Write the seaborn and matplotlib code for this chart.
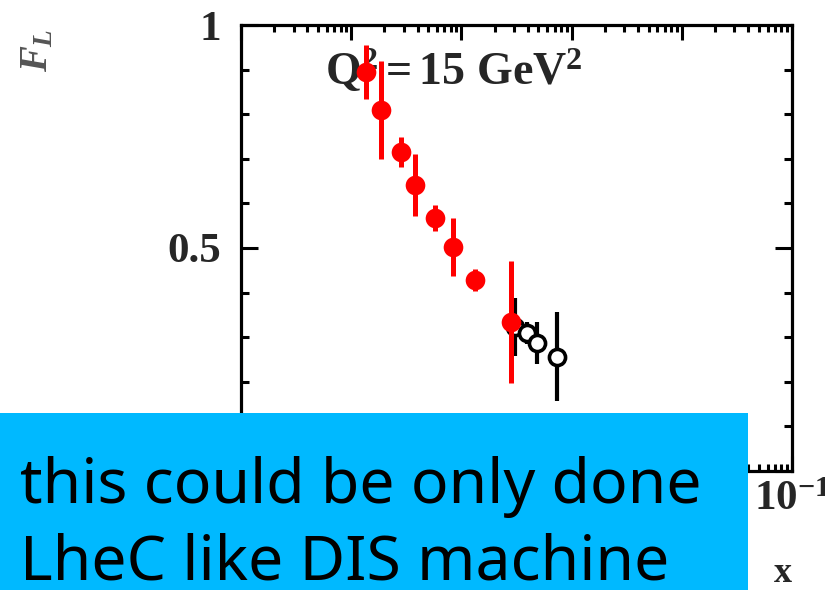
import numpy as np
import pandas as pd
import seaborn as sns
import matplotlib
matplotlib.use("Agg")
import matplotlib.pyplot as plt
from matplotlib.ticker import LogLocator, MultipleLocator, FuncFormatter, NullFormatter
from matplotlib.patches import Rectangle

# Filled points (red) and open points (black), F_L vs x at Q^2 = 15 GeV^2
x_red = [1.36e-5, 1.86e-5, 2.82e-5, 3.79e-5, 5.77e-5, 8.41e-5, 1.34e-4, 2.79e-4]
y_red = [0.895, 0.809, 0.715, 0.641, 0.567, 0.502, 0.428, 0.334]
e_red = [0.060, 0.110, 0.034, 0.070, 0.030, 0.065, 0.025, 0.136]

x_blk = [3.09e-4, 3.90e-4, 4.81e-4, 7.31e-4]
y_blk = [0.323, 0.309, 0.287, 0.256]
e_blk = [0.065, 0.025, 0.047, 0.100]

title_text = r"$\mathbf{Q^2 = 15\ GeV^2}$"
note_lines = ["this could be only done", "LheC like DIS machine"]

sns.set_theme(style="ticks")
plt.rcParams["font.family"] = ["Liberation Serif", "DejaVu Serif"]
plt.rcParams["font.weight"] = "bold"
plt.rcParams["mathtext.fontset"] = "custom"
plt.rcParams["mathtext.rm"] = "Liberation Serif:bold"
plt.rcParams["mathtext.bf"] = "Liberation Serif:bold"
plt.rcParams["mathtext.it"] = "Liberation Serif:italic"

W, H = 825, 590
fig = plt.figure(figsize=(W / 100, H / 100), dpi=100)
ax = fig.add_axes([241 / W, 1 - 471 / H, (792 - 241) / W, (471 - 25) / H])

red = pd.DataFrame({"x": x_red, "y": y_red, "e": e_red})
blk = pd.DataFrame({"x": x_blk, "y": y_blk, "e": e_blk})

# open points with their error bars
ax.errorbar(blk["x"], blk["y"], yerr=blk["e"], fmt="none", ecolor="black",
            elinewidth=3, capsize=0, zorder=3)
sns.scatterplot(data=blk, x="x", y="y", ax=ax, marker="o", s=135,
                facecolor="white", edgecolor="black", linewidth=2.6, zorder=4,
                legend=False)

# filled points with their error bars
ax.errorbar(red["x"], red["y"], yerr=red["e"], fmt="none", ecolor="#ff0000",
            elinewidth=3.6, capsize=0, zorder=5)
sns.scatterplot(data=red, x="x", y="y", ax=ax, marker="o", s=200,
                color="#ff0000", edgecolor="#ff0000", linewidth=0, zorder=6,
                legend=False)

ax.set_xscale("log")
ax.set_xlim(1e-6, 1e-1)
ax.set_ylim(0, 1)

ax.xaxis.set_major_locator(LogLocator(base=10, numticks=10))
ax.xaxis.set_minor_locator(LogLocator(base=10, subs=np.arange(2, 10), numticks=20))
ax.xaxis.set_major_formatter(FuncFormatter(lambda v, p: r"$\mathbf{10^{%d}}$" % round(np.log10(v))))
ax.xaxis.set_minor_formatter(NullFormatter())

ax.yaxis.set_major_locator(MultipleLocator(0.5))
ax.yaxis.set_minor_locator(MultipleLocator(0.1))
ax.yaxis.set_major_formatter(FuncFormatter(lambda v, p: "%g" % v))

for s in ax.spines.values():
    s.set_linewidth(2.3)
    s.set_color("black")

ax.tick_params(which="both", direction="in", top=True, right=True,
               color="black", width=2.2)
ax.tick_params(axis="y", which="major", length=12, pad=14, labelsize=31)
ax.tick_params(axis="y", which="minor", length=6)
ax.tick_params(axis="x", which="major", length=11, pad=7, labelsize=31)
ax.tick_params(axis="x", which="minor", length=5)

ax.set_xlabel("x", fontsize=26, fontweight="bold")
ax.xaxis.set_label_coords(1.0, (471 - 582) / 446)
ax.xaxis.label.set_horizontalalignment("right")
ax.xaxis.label.set_verticalalignment("baseline")

ax.set_ylabel(r"$F_L$", fontsize=28, color="#555555", rotation=90)
ax.yaxis.set_label_coords((38 - 241) / 551, (471 - 50) / 446)
ax.yaxis.label.set_verticalalignment("center")

ax.text((325 - 241) / 551, (471 - 85) / 446, title_text, transform=ax.transAxes,
        fontsize=33, ha="left", va="baseline", zorder=2)

# note panel over the lower part of the figure
panel_w, panel_top = 748, 413
fig.add_artist(Rectangle((0, 0), panel_w / W, (H - panel_top) / H, transform=fig.transFigure,
                         facecolor="#00b9ff", edgecolor="none", zorder=10))
fig.text(20 / W, 1 - 503 / H, note_lines[0], fontsize=45, family="Noto Sans",
         fontweight="normal", color="black", ha="left", va="baseline", zorder=11)
fig.text(20 / W, 1 - 580 / H, note_lines[1], fontsize=45, family="Noto Sans",
         fontweight="normal", color="black", ha="left", va="baseline", zorder=11)

# tick labels that sit under the panel are not shown
fig.canvas.draw()
for lab in ax.get_xticklabels() + ax.get_yticklabels():
    bb = lab.get_window_extent()
    cx, cy = (bb.x0 + bb.x1) / 2, H - (bb.y0 + bb.y1) / 2
    if cx < panel_w and cy > panel_top:
        lab.set_visible(False)

fig.savefig("out.png", dpi=100)
